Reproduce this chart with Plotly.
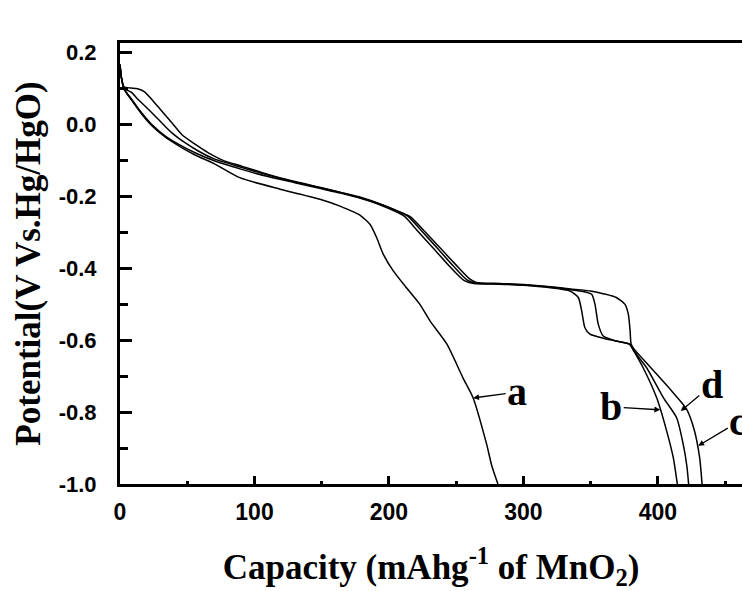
import plotly.graph_objects as go

# ---- data (Capacity mAh/g, Potential V) ----
a_x = [0, 1, 3, 8.7, 16.1, 23.5, 33.5, 43.4, 55.8, 70, 89, 119, 148.7, 163.6, 171, 178.4, 186, 190.9,
       195.8, 203.2, 213, 223, 230.5, 243, 255, 262.6, 272.5, 276.5, 281]
a_y = [0.165, 0.13, 0.097, 0.066, 0.028, -0.004, -0.036, -0.06, -0.086, -0.11, -0.149, -0.181, -0.209,
       -0.228, -0.24, -0.253, -0.279, -0.316, -0.362, -0.408, -0.455, -0.501, -0.547, -0.611, -0.705,
       -0.761, -0.888, -0.95, -1.0]

b_x = [0, 1, 3, 8.7, 16.1, 23.5, 33.5, 43.4, 55.8, 70.6, 90.5, 110, 130, 150, 164, 180, 195, 207, 212,
       222, 233, 245, 256, 263, 282, 300, 320, 334.6, 340.8, 343.3, 345.7, 349.4, 359.3, 369.3, 379.2,
       382, 389, 399, 406.5, 411.4, 414.4]
b_y = [0.165, 0.13, 0.098, 0.069, 0.031, -0.001, -0.033, -0.056, -0.08, -0.103, -0.126, -0.146, -0.163,
       -0.18, -0.192, -0.208, -0.227, -0.247, -0.258, -0.3, -0.345, -0.395, -0.435, -0.443, -0.445,
       -0.448, -0.455, -0.464, -0.482, -0.519, -0.566, -0.584, -0.595, -0.603, -0.612, -0.63, -0.677,
       -0.76, -0.853, -0.927, -1.0]

c_x = [0, 1, 3, 8, 13, 18, 23.5, 31, 38.4, 45.9, 55.8, 65.7, 78, 90.5, 110, 130, 150, 164, 180, 195,
       208, 216, 227, 238, 250, 260, 265, 282, 300, 320, 335, 350, 360, 369, 375.5, 378, 379.3, 380,
       382, 391, 401.5, 411, 421.3, 427, 431, 432.8]
c_y = [0.165, 0.13, 0.103, 0.1, 0.098, 0.09, 0.069, 0.036, 0.004, -0.029, -0.056, -0.08, -0.103,
       -0.117, -0.14, -0.16, -0.177, -0.19, -0.205, -0.224, -0.244, -0.258, -0.3, -0.344, -0.392,
       -0.43, -0.44, -0.443, -0.446, -0.452, -0.458, -0.464, -0.472, -0.482, -0.501, -0.529, -0.575,
       -0.61, -0.624, -0.662, -0.705, -0.745, -0.792, -0.85, -0.927, -1.0]

d_x = [0, 1, 3, 8.7, 13.5, 18.6, 28.5, 38.4, 48.3, 58.2, 70, 90, 110, 130, 150, 164, 180, 195, 208,
       214, 225, 236, 248, 258, 264, 282, 300, 320, 335, 342, 350.7, 353.2, 355.6, 359.3, 369, 379,
       382, 391.6, 404, 413.9, 418.8, 421.5, 422.8]
d_y = [0.165, 0.13, 0.1, 0.087, 0.068, 0.05, 0.013, -0.024, -0.052, -0.075, -0.097, -0.12, -0.142,
       -0.161, -0.178, -0.19, -0.206, -0.225, -0.245, -0.256, -0.3, -0.345, -0.395, -0.433, -0.442,
       -0.444, -0.447, -0.453, -0.46, -0.464, -0.473, -0.501, -0.556, -0.589, -0.603, -0.612, -0.63,
       -0.677, -0.76, -0.816, -0.89, -0.95, -1.0]

x_ticks = [0, 100, 200, 300, 400]
x_tick_labels = ["0", "100", "200", "300", "400"]
y_ticks = [0.2, 0.0, -0.2, -0.4, -0.6, -0.8, -1.0]
y_tick_labels = ["0.2", "0.0", "-0.2", "-0.4", "-0.6", "-0.8", "-1.0"]

curve_labels = ["a", "b", "c", "d"]
label_tips_x = [262.6, 401.7, 430, 417]
label_tips_y = [-0.761, -0.794, -0.894, -0.797]

SERIF = "Liberation Serif, Times New Roman, serif"
SANS = "Liberation Sans, Arial, sans-serif"

fig = go.Figure()
for xs, ys, name in [(a_x, a_y, "a"), (b_x, b_y, "b"), (c_x, c_y, "c"), (d_x, d_y, "d")]:
    fig.add_trace(go.Scatter(x=xs, y=ys, mode="lines", name=name,
                             line=dict(color="black", width=1.5, shape="spline", smoothing=0.6),
                             showlegend=False))

offsets = [(44, -6), (-49, -3), (40, -24), (31, -26)]
for lab, tx, ty, (ax, ay) in zip(curve_labels, label_tips_x, label_tips_y, offsets):
    fig.add_annotation(x=tx, y=ty, text="<b>%s</b>" % lab, showarrow=True, ax=ax, ay=ay,
                       arrowhead=2, arrowsize=0.9, arrowwidth=1.3, arrowcolor="black",
                       font=dict(family=SERIF, size=40, color="black"))

fig.update_layout(
    width=742, height=591,
    margin=dict(l=120, r=0, t=43, b=107, autoexpand=False),
    paper_bgcolor="white", plot_bgcolor="white",
    xaxis=dict(range=[0, 462.5], showgrid=False, zeroline=False, automargin=False,
               showline=True, linecolor="black", linewidth=3, mirror=True,
               ticks="inside", ticklen=8, tickwidth=3, tickcolor="black",
               tickvals=x_ticks, ticktext=x_tick_labels, ticklabelstandoff=5,
               tickfont=dict(family=SANS, size=23, color="black", weight="bold"),
               minor=dict(dtick=50, tick0=0, ticks="inside", ticklen=3, tickwidth=3, tickcolor="black"),
               title=dict(text="<b>Capacity (mAhg<sup>-1</sup> of MnO<sub>2</sub>)</b>",
                          font=dict(family=SERIF, size=35, color="black"), standoff=34)),
    yaxis=dict(range=[-1.0, 0.225], showgrid=False, zeroline=False, automargin=False,
               showline=True, linecolor="black", linewidth=3,
               ticks="inside", ticklen=12, tickwidth=3, tickcolor="black",
               tickvals=y_ticks, ticktext=y_tick_labels, ticklabelstandoff=16,
               tickfont=dict(family=SANS, size=22, color="black", weight="bold"),
               minor=dict(dtick=0.1, tick0=0, ticks="inside", ticklen=8, tickwidth=3, tickcolor="black"),
               title=dict(text="<b>Potential(V Vs.Hg/HgO)</b>",
                          font=dict(family=SERIF, size=35, color="black"), standoff=8)),
)

fig.write_html("out.html", config={"displayModeBar": False},
               post_script="document.body.style.margin='0';document.body.style.overflow='hidden';")
